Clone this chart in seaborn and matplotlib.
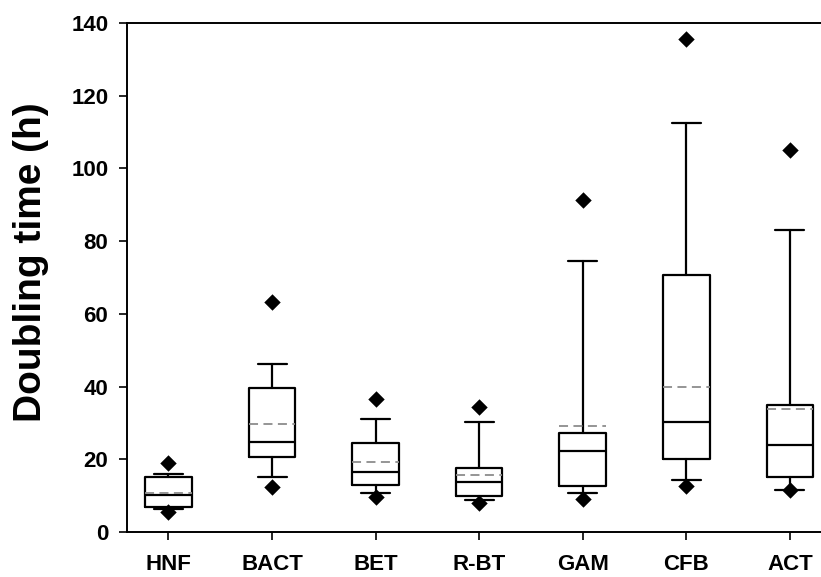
import matplotlib
matplotlib.use("Agg")
import matplotlib.pyplot as plt
import seaborn as sns
import pandas as pd

# ---- data ----
categories = ["HNF", "BACT", "BET", "R-BT", "GAM", "CFB", "ACT"]
q1 = [6.8, 20.5, 12.9, 9.9, 12.7, 20.1, 15.0]
median = [10.2, 24.7, 16.6, 13.8, 22.3, 30.3, 23.9]
q3 = [15.1, 39.6, 24.6, 17.5, 27.2, 70.6, 35.0]
mean = [10.6, 29.6, 19.3, 15.7, 29.2, 40.0, 33.9]
whisker_low = [6.3, 15.1, 10.8, 8.8, 10.8, 14.4, 11.55]
whisker_high = [15.95, 46.3, 31.1, 30.25, 74.5, 112.5, 83.1]
p_low = [5.6, 12.5, 9.7, 8.1, 9.0, 12.7, 11.6]
p_high = [18.9, 63.3, 36.6, 34.5, 91.3, 135.5, 105.1]
y_ticks = [0, 20, 40, 60, 80, 100, 120, 140]

sns.set_style("ticks")
plt.rcParams["font.family"] = ["Liberation Sans", "DejaVu Sans"]
plt.rcParams["font.weight"] = "bold"
plt.rcParams["text.color"] = "black"
plt.rcParams["axes.labelcolor"] = "black"
plt.rcParams["xtick.color"] = "black"
plt.rcParams["ytick.color"] = "black"

fig = plt.figure(figsize=(8.21, 5.77), dpi=100)
ax = fig.add_axes([127 / 821, 1 - 532 / 577, 1 - 127 / 821, (532 - 23) / 577])

stats = []
for i, c in enumerate(categories):
    stats.append(dict(label=c, q1=q1[i], med=median[i], q3=q3[i], mean=mean[i],
                      whislo=whisker_low[i], whishi=whisker_high[i], fliers=[]))

positions = list(range(len(categories)))
lw = 1.6
ax.bxp(stats, positions=positions, widths=0.45, capwidths=0.28,
       showmeans=True, meanline=True, showfliers=False, patch_artist=False,
       boxprops=dict(color="black", linewidth=lw),
       medianprops=dict(color="black", linewidth=lw),
       whiskerprops=dict(color="black", linewidth=lw),
       capprops=dict(color="black", linewidth=lw),
       meanprops=dict(color="#8c8c8c", linewidth=1.3, linestyle=(0, (5, 3))))

pts = pd.DataFrame({
    "pos": positions * 2,
    "value": p_low + p_high,
})
sns.scatterplot(data=pts, x="pos", y="value", marker="D", s=70, color="black",
                edgecolor="black", linewidth=0, ax=ax, zorder=5)

ax.set_xlim(-0.4, 6.3)
ax.set_ylim(0, 140)
ax.set_yticks(y_ticks)
ax.set_xticks(positions)
ax.set_xticklabels(categories)
ax.set_xlabel("")
ax.set_ylabel("Doubling time (h)", fontsize=28, fontweight="bold", color="black")
ax.yaxis.set_label_coords(-0.112, 0.53)

for s in ["left", "bottom", "top"]:
    ax.spines[s].set_linewidth(1.4)
    ax.spines[s].set_color("black")
ax.spines["right"].set_visible(False)
ax.tick_params(axis="both", direction="out", length=5.5, width=1.2, color="black",
               labelsize=16, labelcolor="black")
ax.tick_params(axis="y", pad=8)
ax.tick_params(axis="x", pad=10)
for lab in ax.get_xticklabels() + ax.get_yticklabels():
    lab.set_fontweight("bold")

fig.savefig("out.png", dpi=100)
